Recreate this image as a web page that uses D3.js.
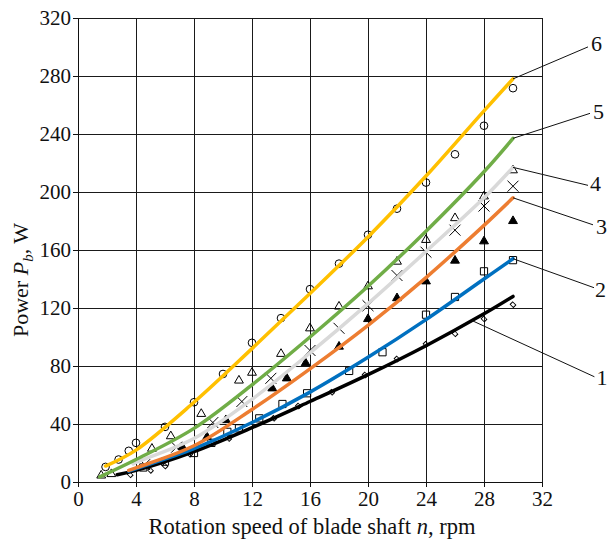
<!DOCTYPE html>
<html>
<head>
<meta charset="utf-8">
<script src="https://cdn.jsdelivr.net/npm/d3@7"></script>
<style>
  body { margin: 0; background: #fff; }
  svg { display: block; font-family: "Liberation Serif", serif; }
</style>
</head>
<body>
<div id="chart"></div>
<script>
// Ticks
var xTicks = [0, 4, 8, 12, 16, 20, 24, 28, 32];
var yTicks = [0, 40, 80, 120, 160, 200, 240, 280, 320];

// Fitted curves (1 = black ... 6 = yellow)
var curveNames = ["1", "2", "3", "4", "5", "6"];
var curveColors = ["#000000", "#0070C0", "#ED7D31", "#D9D9D9", "#70AD47", "#FFC000"];
var fitX = [4, 8, 12, 16, 20, 24, 28, 30];
var startX = [2.7, 3.5, 3.5, 3.8, 1.5, 1.9];
var startY = [5, 7.5, 8, 12.5, 3.5, 11];
var fit1 = [8, 21, 37.5, 55.5, 74, 94, 116, 128];
var fit2 = [9.2, 23, 41, 62, 86, 112, 140, 154];
var fit3 = [9.8, 25, 50, 78, 108, 141, 177, 196];
var fit4 = [13.5, 30, 57, 89, 123, 159, 196, 217];
var fit5 = [15.5, 37, 67, 100, 135, 173, 214, 237];
var fit6 = [22, 55, 92, 130, 169, 211, 256, 278];

// Measured points
var pts1X = [3.6, 5, 6, 7.7, 10.4, 13.5, 15.2, 17.5, 19.8, 22, 24, 26, 28, 30];
var pts1Y = [5, 8, 11, 19.2, 30, 43.9, 52.4, 61.9, 73.8, 84.9, 95, 102.2, 112.4, 122.3];
var pts2X = [4.5, 6, 8, 9.2, 10.3, 11.1, 12.5, 14.1, 15.8, 18.7, 21, 24, 26, 28, 30];
var pts2Y = [10, 14, 20, 27, 34.6, 37, 43.9, 53.8, 61.2, 76.6, 89.5, 115.4, 127.6, 145.3, 153];
var pts3X = [7.2, 8.9, 10.2, 13.4, 14.4, 15.7, 18, 20, 22, 24, 26, 28, 30];
var pts3Y = [24, 31, 42.7, 64.6, 71.5, 82, 93.4, 112.4, 126.8, 138.4, 152.7, 166, 180];
var pts4X = [4.6, 6.8, 9.3, 11.3, 13.3, 16, 18, 20, 22, 24, 26, 28, 30];
var pts4Y = [12, 24, 41, 55.5, 71.5, 90.7, 106, 121.6, 142.4, 158.5, 173.7, 190.3, 204];
var pts5X = [1.6, 2.3, 5.1, 6.4, 8.5, 11.1, 12, 14, 16, 18, 20, 22, 24, 26, 28, 30];
var pts5Y = [4.5, 5.5, 23, 31.6, 47, 70, 75.4, 88.4, 106, 121, 135, 152, 167, 182, 197, 215];
var pts6X = [1.9, 2.8, 3.5, 4.0, 6.0, 8.0, 10, 12, 14, 16, 18, 20, 22, 24, 26, 28, 30];
var pts6Y = [10.4, 15.5, 21.5, 27, 38, 55, 74.5, 96, 113, 133, 150.6, 170.5, 188.5, 206.5, 226, 245.7, 271.6];

// Where each curve label's leader line starts (x on the curve)
var leaderX = [27.2, 30, 30, 30, 30, 30];

function chart() {
    //Settings
    var width = 607;
    var height = 542;
    var fits = [fit1, fit2, fit3, fit4, fit5, fit6];
    var ptsX = [pts1X, pts2X, pts3X, pts4X, pts5X, pts6X];
    var ptsY = [pts1Y, pts2Y, pts3Y, pts4Y, pts5Y, pts6Y];
    var leaderDx = [122, 81, 80, 75, 77, 75];
    var leaderDy = [56, 29, 27, 18, -25, -32];
    var labelDx = [2, 1, 3, 2, 3, 3];
    var labelDy = [8, 9, 9, 6, 6, 4];

    var svg = d3.select("#chart").append("svg")
        .attr("width", width)
        .attr("height", height);

    var x = d3.scaleLinear()
        .domain([0, 32])
        .range([78, 542]);

    var y = d3.scaleLinear()
        .domain([0, 320])
        .range([482, 18]);

    //Grid
    var grid = svg.append("g").attr("class", "grid");
    grid.selectAll("line.v")
        .data(xTicks.slice(1))
        .enter().append("line")
        .attr("class", "v")
        .attr("x1", d => Math.round(x(d)) + 0.5)
        .attr("x2", d => Math.round(x(d)) + 0.5)
        .attr("y1", y(0))
        .attr("y2", y(320))
        .attr("stroke", "#1a1a1a");
    grid.selectAll("line.h")
        .data(yTicks.slice(1))
        .enter().append("line")
        .attr("class", "h")
        .attr("y1", d => Math.round(y(d)) + 0.5)
        .attr("y2", d => Math.round(y(d)) + 0.5)
        .attr("x1", x(0))
        .attr("x2", x(32))
        .attr("stroke", "#1a1a1a");

    //Axes
    var xAxis = d3.axisBottom(x)
        .tickValues(xTicks)
        .tickSize(5)
        .tickPadding(4)
        .tickSizeOuter(0);
    var xAxisGroup = svg.append("g")
        .attr("class", "xAxis")
        .attr("transform", "translate(0," + y(0) + ")")
        .call(xAxis);

    var yAxis = d3.axisLeft(y)
        .tickValues(yTicks)
        .tickSize(5)
        .tickPadding(2)
        .tickSizeOuter(0);
    var yAxisGroup = svg.append("g")
        .attr("class", "yAxis")
        .attr("transform", "translate(" + x(0) + ",0)")
        .call(yAxis);

    svg.selectAll(".xAxis text, .yAxis text")
        .style("font-family", "Liberation Serif, serif")
        .style("font-size", "21px")
        .attr("fill", "#111");
    svg.selectAll(".domain, .tick line").attr("stroke", "#111");

    //Axis titles
    svg.append("text")
        .attr("x", (x(0) + x(32)) / 2 + 2)
        .attr("y", 534)
        .attr("text-anchor", "middle")
        .style("font-size", "22.5px")
        .attr("fill", "#111")
        .html("Rotation speed of blade shaft <tspan font-style='italic'>n</tspan>, rpm");

    svg.append("text")
        .attr("transform", "translate(28," + ((y(0) + y(320)) / 2 + 30) + ") rotate(-90)")
        .attr("text-anchor", "middle")
        .style("font-size", "22px")
        .attr("fill", "#111")
        .html("Power <tspan font-style='italic'>P</tspan><tspan font-style='italic' font-size='15px' dy='5'>b</tspan><tspan dy='-5'>, W</tspan>");

    //Measured points
    var shapes = [
        { type: d3.symbolSquare, size: 20, rot: 45, sy: 0.8, fill: "none" },
        { type: d3.symbolSquare, size: 52, rot: 0, sy: 1, fill: "none" },
        { type: d3.symbolTriangle, size: 34, rot: 0, sy: 1, fill: "#000" },
        { type: d3.symbolX, size: 80, rot: 0, sy: 1, fill: "none" },
        { type: d3.symbolTriangle, size: 34, rot: 0, sy: 1, fill: "none" },
        { type: d3.symbolCircle, size: 46, rot: 0, sy: 1, fill: "none" }
    ];

    curveNames.forEach(function(name, k) {
        var s = shapes[k];
        svg.append("g").selectAll("path")
            .data(d3.zip(ptsX[k], ptsY[k]))
            .enter()
            .append("path")
            .attr("d", d3.symbol().type(s.type).size(s.size))
            .attr("transform", d => "translate(" + x(d[0]) + "," + y(d[1]) + ") rotate(" + s.rot + ") scale(1," + s.sy + ")")
            .attr("fill", s.fill)
            .attr("stroke", "#000")
            .attr("stroke-width", 1);
    });

    //Fitted curves
    var line = d3.line()
        .x(d => x(d[0]))
        .y(d => y(d[1]))
        .curve(d3.curveCatmullRom.alpha(0.5));

    curveNames.forEach(function(name, k) {
        var pts = [[startX[k], startY[k]]].concat(d3.zip(fitX, fits[k]));
        svg.append("path")
            .datum(pts)
            .attr("d", line)
            .attr("fill", "none")
            .attr("stroke", curveColors[k])
            .attr("stroke-width", 3.5)
            .attr("stroke-linecap", "round");
    });

    //Curve labels with leader lines
    curveNames.forEach(function(name, k) {
        var lx = leaderX[k];
        var i = fitX.indexOf(lx);
        var ly = i >= 0 ? fits[k][i] : d3.interpolateNumber(fits[k][6], fits[k][7])((lx - 28) / 2);
        var x0 = x(lx), y0 = y(ly);
        var x1 = x0 + leaderDx[k], y1 = y0 + leaderDy[k];
        svg.append("line")
            .attr("x1", x0).attr("y1", y0)
            .attr("x2", x1).attr("y2", y1)
            .attr("stroke", "#111")
            .attr("stroke-width", 1);
        svg.append("text")
            .attr("x", x1 + labelDx[k])
            .attr("y", y1 + labelDy[k])
            .style("font-size", "22px")
            .attr("fill", "#111")
            .text(name);
    });
}

chart();
</script>
</body>
</html>
